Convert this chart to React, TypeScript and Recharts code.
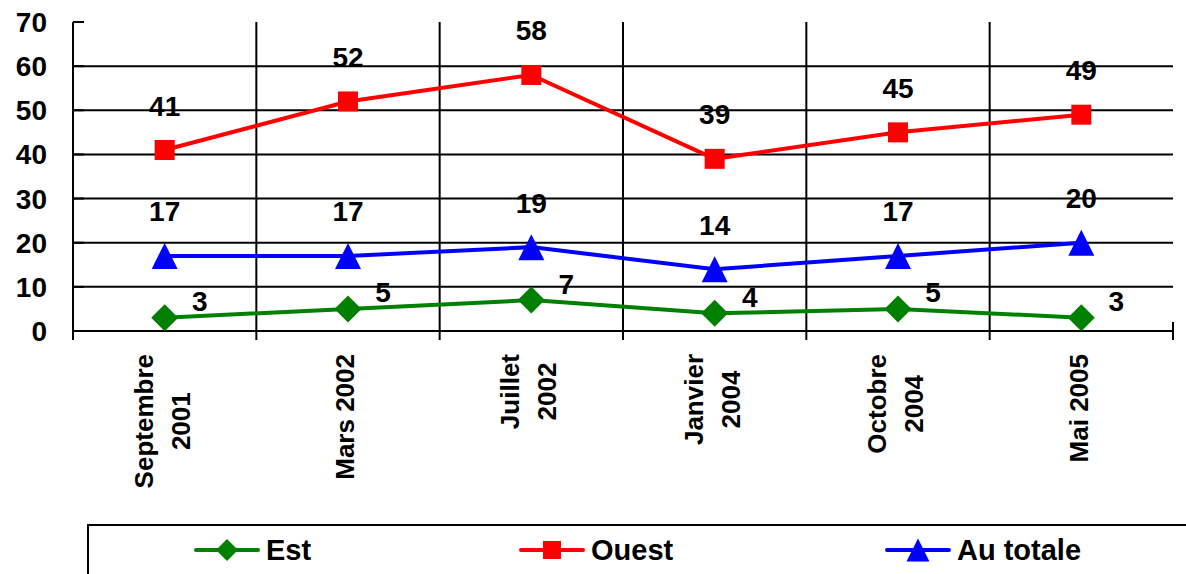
import React from "react";
import {
  LineChart,
  Line,
  XAxis,
  YAxis,
  CartesianGrid,
  Legend,
  LabelList,
  ReferenceArea,
} from "recharts";

const categories = [
  "Septembre\n2001",
  "Mars 2002",
  "Juillet\n2002",
  "Janvier\n2004",
  "Octobre\n2004",
  "Mai 2005",
];
const est = [3, 5, 7, 4, 5, 3];
const ouest = [41, 52, 58, 39, 45, 49];
const auTotale = [17, 17, 19, 14, 17, 20];
const yTicks = [0, 10, 20, 30, 40, 50, 60, 70];
const gridValues = [10, 20, 30, 40, 50, 60];

const data = categories.map((name, i) => ({
  name,
  est: est[i],
  ouest: ouest[i],
  totale: auTotale[i],
}));

const FONT = "'Liberation Sans', Arial, sans-serif";
const GREEN = "#008000";
const RED = "#ff0000";
const BLUE = "#0000ff";

let ctx: CanvasRenderingContext2D | null = null;
function textWidth(s: string, font: string) {
  if (!ctx) ctx = document.createElement("canvas").getContext("2d");
  if (!ctx) return s.length * 15;
  ctx.font = font;
  return ctx.measureText(s).width;
}

function XTick(props: any) {
  const { x, y, payload, index, width, visibleTicksCount } = props;
  const lines = String(payload.value).split("\n");
  const size = 26;
  const maxW = Math.max(...lines.map((l) => textWidth(l, `bold ${size}px 'Liberation Sans'`)));
  const count = visibleTicksCount || categories.length;
  const band = (width || 1100) / count;
  const gap = 37;
  const cap = size * 0.72;
  const cy = y + 23 + maxW / 2;
  return (
    <g>
      <line x1={x - band / 2} x2={x - band / 2} y1={y} y2={y + 9} stroke="#000" strokeWidth={2} />
      {index === count - 1 && (
        <line x1={x + band / 2} x2={x + band / 2} y1={y - 9} y2={y + 9} stroke="#000" strokeWidth={2} />
      )}
      {lines.map((l, i) => {
        const bx = x + (i - (lines.length - 1) / 2) * gap + cap / 2 - 3;
        return (
          <text
            key={i}
            transform={`translate(${bx},${cy}) rotate(-90)`}
            textAnchor="middle"
            fontFamily={FONT}
            fontWeight="bold"
            fontSize={size}
            fill="#000"
          >
            {l}
          </text>
        );
      })}
    </g>
  );
}

const makeLabel = (dx: number, dy: number) => (props: any) => {
  const x = props.x ?? props.viewBox?.x;
  const y = props.y ?? props.viewBox?.y;
  if (x == null || y == null) return null;
  return (
    <text
      x={x + dx}
      y={y + dy}
      textAnchor="middle"
      dominantBaseline="central"
      fontFamily={FONT}
      fontWeight="bold"
      fontSize={28}
      fill="#000"
    >
      {props.value}
    </text>
  );
};

function Diamond({ cx, cy, r, fill }: any) {
  return <polygon points={`${cx},${cy - r} ${cx + r},${cy} ${cx},${cy + r} ${cx - r},${cy}`} fill={fill} />;
}
function Square({ cx, cy, r, fill }: any) {
  return <rect x={cx - r} y={cy - r} width={r * 2} height={r * 2} fill={fill} />;
}
function Triangle({ cx, cy, r, fill }: any) {
  return <polygon points={`${cx},${cy - r} ${cx + r},${cy + r} ${cx - r},${cy + r}`} fill={fill} />;
}

const legendItems = [
  { name: "Est", color: GREEN, Shape: Diamond, r: 11, left: 105 },
  { name: "Ouest", color: RED, Shape: Square, r: 9, left: 430 },
  { name: "Au totale", color: BLUE, Shape: Triangle, r: 11.5, left: 796 },
];

function LegendBox() {
  return (
    <div
      style={{
        position: "relative",
        width: "100%",
        height: "100%",
        borderTop: "2px solid #000",
        borderLeft: "2px solid #000",
        boxSizing: "border-box",
      }}
    >
      {legendItems.map(({ name, color, Shape, r, left }) => (
        <div
          key={name}
          style={{
            position: "absolute",
            left,
            top: 8,
            display: "flex",
            alignItems: "center",
            gap: 6,
          }}
        >
          <svg width={66} height={28}>
            <line x1={2} x2={64} y1={14} y2={14} stroke={color} strokeWidth={4} strokeLinecap="round" />
            <Shape cx={33} cy={14} r={r} fill={color} />
          </svg>
          <span style={{ fontFamily: FONT, fontWeight: "bold", fontSize: 29, color: "#000", lineHeight: "32px" }}>
            {name}
          </span>
        </div>
      ))}
    </div>
  );
}

export default function App() {
  return (
    <div style={{ position: "absolute", left: 0, top: 0, background: "#fff" }}>
      <LineChart width={1186} height={574} data={data} margin={{ top: 22, right: 13, left: 0, bottom: 0 }}>
        <ReferenceArea fill="none" stroke="#c0c0c0" strokeWidth={2} ifOverflow="visible" />
        <CartesianGrid
          stroke="#000"
          strokeWidth={2}
          horizontalValues={gridValues}
          verticalCoordinatesGenerator={({ offset }: any) =>
            categories.slice(1).map((_, i) => offset.left + ((i + 1) * offset.width) / categories.length)
          }
        />
        <XAxis
          dataKey="name"
          scale="band"
          height={243}
          interval={0}
          axisLine={{ stroke: "#000", strokeWidth: 2 }}
          tickLine={false}
          tickSize={0}
          tickMargin={0}
          tick={<XTick />}
        />
        <YAxis
          width={73}
          domain={[0, 70]}
          ticks={yTicks}
          interval={0}
          axisLine={{ stroke: "#000", strokeWidth: 2 }}
          tickLine={{ stroke: "#000", strokeWidth: 2 }}
          tickSize={-11}
          tickMargin={37}
          tick={{ fill: "#000", fontSize: 28, fontWeight: "bold", fontFamily: FONT }}
        />
        <Legend
          verticalAlign="middle"
          align="center"
          layout="horizontal"
          content={<LegendBox />}
          wrapperStyle={{ top: 524, left: 87, width: 1099, height: 50 }}
        />
        <Line
          dataKey="est"
          name="Est"
          stroke={GREEN}
          strokeWidth={4}
          isAnimationActive={false}
          dot={(p: any) => <Diamond key={`e${p.index}`} cx={p.cx} cy={p.cy} r={13.5} fill={GREEN} />}
          activeDot={false}
        >
          <LabelList dataKey="est" content={makeLabel(35, -16)} />
        </Line>
        <Line
          dataKey="ouest"
          name="Ouest"
          stroke={RED}
          strokeWidth={4}
          isAnimationActive={false}
          dot={(p: any) => <Square key={`o${p.index}`} cx={p.cx} cy={p.cy} r={10} fill={RED} />}
          activeDot={false}
        >
          <LabelList dataKey="ouest" content={makeLabel(0, -44)} />
        </Line>
        <Line
          dataKey="totale"
          name="Au totale"
          stroke={BLUE}
          strokeWidth={4}
          isAnimationActive={false}
          dot={(p: any) => <Triangle key={`t${p.index}`} cx={p.cx} cy={p.cy} r={13} fill={BLUE} />}
          activeDot={false}
        >
          <LabelList dataKey="totale" content={makeLabel(0, -44)} />
        </Line>
      </LineChart>
    </div>
  );
}
